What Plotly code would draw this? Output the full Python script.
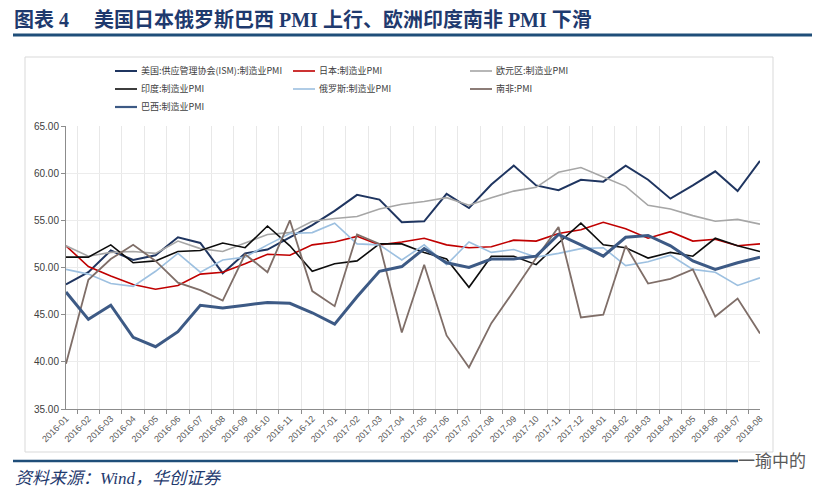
import plotly.graph_objects as go

months = ["2016-01","2016-02","2016-03","2016-04","2016-05","2016-06","2016-07","2016-08",
          "2016-09","2016-10","2016-11","2016-12","2017-01","2017-02","2017-03","2017-04",
          "2017-05","2017-06","2017-07","2017-08","2017-09","2017-10","2017-11","2017-12",
          "2018-01","2018-02","2018-03","2018-04","2018-05","2018-06","2018-07","2018-08"]

us_ism = [48.2, 49.5, 51.8, 50.8, 51.3, 53.2, 52.6, 49.4, 51.5, 51.9, 53.2, 54.5,
          56.0, 57.7, 57.2, 54.8, 54.9, 57.8, 56.3, 58.8, 60.8, 58.7, 58.2, 59.3,
          59.1, 60.8, 59.3, 57.3, 58.7, 60.2, 58.1, 61.3]
japan = [52.3, 50.1, 49.1, 48.2, 47.7, 48.1, 49.3, 49.5, 50.4, 51.4, 51.3, 52.4,
         52.7, 53.3, 52.4, 52.7, 53.1, 52.4, 52.1, 52.2, 52.9, 52.8, 53.6, 54.0,
         54.8, 54.1, 53.1, 53.8, 52.8, 53.0, 52.3, 52.5]
eurozone = [52.3, 51.2, 51.6, 51.7, 51.5, 52.8, 52.0, 51.7, 52.6, 53.5, 53.7, 54.9,
            55.2, 55.4, 56.2, 56.7, 57.0, 57.4, 56.6, 57.4, 58.1, 58.5, 60.1, 60.6,
            59.6, 58.6, 56.6, 56.2, 55.5, 54.9, 55.1, 54.6]
india = [51.1, 51.1, 52.4, 50.5, 50.7, 51.7, 51.8, 52.6, 52.1, 54.4, 52.3, 49.6,
         50.4, 50.7, 52.5, 52.5, 51.6, 50.9, 47.9, 51.2, 51.2, 50.3, 52.6, 54.7,
         52.4, 52.1, 51.0, 51.6, 51.2, 53.1, 52.3, 51.7]
russia = [49.8, 49.3, 48.3, 48.0, 49.6, 51.5, 49.5, 50.8, 51.1, 52.4, 53.6, 53.7,
          54.7, 52.5, 52.4, 50.8, 52.4, 50.3, 52.7, 51.6, 51.9, 51.1, 51.5, 52.0,
          52.1, 50.2, 50.6, 51.3, 49.8, 49.5, 48.1, 48.9]
south_africa = [39.8, 48.7, 50.9, 52.4, 50.7, 48.4, 47.6, 46.5, 51.4, 49.5, 55.0, 47.5,
                45.9, 53.5, 52.5, 43.1, 50.3, 42.8, 39.4, 44.1, 47.5, 51.0, 54.3, 44.7,
                45.0, 52.3, 48.3, 48.8, 49.8, 44.8, 46.7, 43.0]
brazil = [47.4, 44.5, 46.0, 42.6, 41.6, 43.2, 46.0, 45.7, 46.0, 46.3, 46.2, 45.2,
          44.0, 46.9, 49.6, 50.1, 52.0, 50.5, 50.0, 50.9, 50.9, 51.2, 53.5, 52.4,
          51.2, 53.2, 53.4, 52.3, 50.7, 49.8, 50.5, 51.1]

series_names = ["美国:供应管理协会(ISM):制造业PMI", "日本:制造业PMI", "欧元区:制造业PMI",
                "印度:制造业PMI", "俄罗斯:制造业PMI", "南非:PMI", "巴西:制造业PMI"]
series_values = [us_ism, japan, eurozone, india, russia, south_africa, brazil]
series_colors = ["#1f3560", "#c00000", "#a6a6a6", "#0d0d0d", "#9dc0e0", "#7f6e68", "#3d5a85"]
series_widths = [2.0, 1.6, 1.6, 1.6, 1.6, 1.8, 3.0]

# page body has an 8px default margin: figure is placed at (8, 8)
OFF = 8
W, H = 830 - OFF, 497 - OFF
# plot area in screen pixels
L, R, T, B = 66, 760, 126, 409


def px(x):
    return (x - L) / (R - L)


def py(y):
    return (B - y) / (B - T)


fig = go.Figure()
for name, vals, col, w in zip(series_names, series_values, series_colors, series_widths):
    fig.add_trace(go.Scatter(x=months, y=vals, name=name, mode="lines",
                             line=dict(color=col, width=w), showlegend=False))

shapes = []
annotations = []

# legend (manual, 3 columns)
legend_pos = [(115, 71), (293, 71), (470, 71), (115, 89), (293, 89), (470, 89), (115, 107)]
for (lx, ly), name, col, w in zip(legend_pos, series_names, series_colors, series_widths):
    shapes.append(dict(type="line", xref="paper", yref="paper",
                       x0=px(lx), x1=px(lx + 22), y0=py(ly), y1=py(ly),
                       line=dict(color=col, width=min(w, 2.2))))
    annotations.append(dict(x=px(lx + 24), y=py(ly), xref="paper", yref="paper",
                            text=name, showarrow=False, xanchor="left", yanchor="middle",
                            font=dict(size=9, color="#404040",
                                      family="Noto Sans CJK SC, Noto Sans, sans-serif")))

# chart frame
shapes.append(dict(type="rect", xref="paper", yref="paper",
                   x0=px(25), x1=px(773), y0=py(57), y1=py(452),
                   line=dict(color="#d9d9d9", width=1), layer="below"))
# title rule
shapes.append(dict(type="line", xref="paper", yref="paper",
                   x0=px(13), x1=px(812), y0=py(35), y1=py(35),
                   line=dict(color="#1f4e79", width=3)))
# footer rule
shapes.append(dict(type="line", xref="paper", yref="paper",
                   x0=px(13), x1=px(738), y0=py(461), y1=py(461),
                   line=dict(color="#1f4e79", width=2.5)))

NB = "\u00a0"
title_text = "<b>图表" + NB + "4" + NB * 5 + "美国日本俄罗斯巴西" + NB + "PMI" + NB + "上行、欧洲印度南非" + NB + "PMI" + NB + "下滑</b>"
annotations.append(dict(x=px(13), y=py(20), xref="paper", yref="paper",
                        text=title_text, height=22, borderpad=0,
                        showarrow=False, xanchor="left", yanchor="middle",
                        font=dict(size=20, color="#1f3a6e",
                                  family="Liberation Serif, Noto Sans CJK SC, serif")))
annotations.append(dict(x=px(13), y=py(478), xref="paper", yref="paper",
                        text="<i>资料来源：Wind，华创证券</i>",
                        showarrow=False, xanchor="left", yanchor="middle",
                        font=dict(size=17, color="#1f3a6e",
                                  family="Liberation Serif, Noto Sans CJK SC, serif")))
annotations.append(dict(x=px(808), y=py(459), xref="paper", yref="paper",
                        text="一瑜中的", showarrow=False, xanchor="right", yanchor="middle",
                        font=dict(size=17, color="#5a5a5a",
                                  family="Noto Sans CJK SC, sans-serif")))

fig.update_layout(
    width=W, height=H,
    margin=dict(l=L - OFF, r=W - (R - OFF), t=T - OFF, b=H - (B - OFF), autoexpand=False),
    paper_bgcolor="white", plot_bgcolor="white",
    shapes=shapes, annotations=annotations,
    font=dict(family="Liberation Sans, Noto Sans CJK SC, sans-serif"),
    xaxis=dict(type="category", tickson="boundaries", showgrid=True, gridcolor="#e8e8e8",
               gridwidth=1, showline=True, linecolor="#8c8c8c", linewidth=1,
               ticks="outside", ticklen=4, tickcolor="#8c8c8c", tickangle=-45,
               tickfont=dict(size=9, color="#595959"), zeroline=False),
    yaxis=dict(range=[35, 65], dtick=5, tickformat=".2f", showgrid=True,
               gridcolor="#ececec", gridwidth=1, showline=True, linecolor="#8c8c8c",
               linewidth=1, ticks="outside", ticklen=4, tickcolor="#8c8c8c",
               tickfont=dict(size=10, color="#404040"), zeroline=False),
)

fig.write_html("out.html")
